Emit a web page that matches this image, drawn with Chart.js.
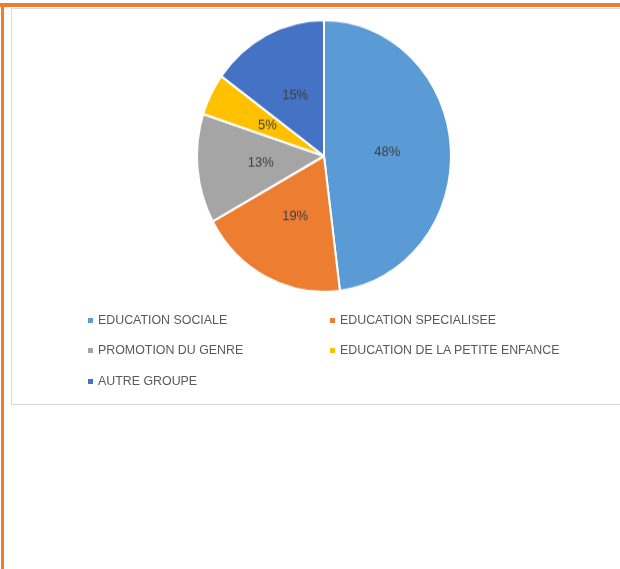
<!DOCTYPE html>
<html>
<head>
<meta charset="utf-8">
<script src="https://cdn.jsdelivr.net/npm/chart.js@4/dist/chart.umd.min.js"></script>
<style>
  html, body { margin: 0; padding: 0; background: #fff; }
  body { width: 620px; height: 569px; position: relative; overflow: hidden; font-family: "Liberation Sans", Arial, sans-serif; }
  #topbar { position: absolute; left: 0; top: 3px; width: 620px; height: 4px; background: #ED7D31; }
  #leftbar { position: absolute; left: 1px; top: 3px; width: 3px; height: 566px; background: #ED7D31; }
  #frame { position: absolute; left: 11px; top: 8px; width: 640px; height: 397px; border: 1px solid #d9d9d9; box-sizing: border-box; }
  #pieWrap { position: absolute; left: 174px; top: 6px; width: 300px; height: 300px; transform: scaleY(1.07); transform-origin: 50% 50%; }
  #legend { position: absolute; left: 0; top: 0; width: 620px; height: 569px; pointer-events: none; }
  .li { position: absolute; white-space: nowrap; font-size: 12.4px; color: #595959; line-height: 14px; }
  .mk { position: absolute; width: 5px; height: 5px; }
</style>
</head>
<body>
<div id="frame"></div>
<div id="topbar"></div>
<div id="leftbar"></div>
<div id="pieWrap"><canvas id="c" width="300" height="300"></canvas></div>
<div id="legend"></div>
<script>
const categories = ["EDUCATION SOCIALE", "EDUCATION SPECIALISEE", "PROMOTION DU GENRE", "EDUCATION DE LA PETITE ENFANCE", "AUTRE GROUPE"];
const values = [48, 19, 13, 5, 15];
const colors = ["#5B9BD5", "#ED7D31", "#A5A5A5", "#FFC000", "#4472C4"];

const pctLabels = {
  id: 'pctLabels',
  afterDatasetsDraw(chart) {
    const ctx = chart.ctx;
    const meta = chart.getDatasetMeta(0);
    ctx.save();
    ctx.font = '13px "Liberation Sans", Arial, sans-serif';
    ctx.fillStyle = '#404040';
    ctx.textAlign = 'center';
    ctx.textBaseline = 'middle';
    meta.data.forEach((arc, i) => {
      const p = arc.tooltipPosition();
      ctx.fillText(values[i] + '%', p.x, p.y);
    });
    ctx.restore();
  }
};

new Chart(document.getElementById('c'), {
  type: 'pie',
  data: {
    labels: categories,
    datasets: [{
      data: values,
      backgroundColor: colors,
      borderColor: '#ffffff',
      borderWidth: 2,
      radius: 127,
      hoverOffset: 0
    }]
  },
  options: {
    responsive: false,
    animation: false,
    layout: { padding: 0 },
    plugins: { legend: { display: false }, tooltip: { enabled: false } }
  },
  plugins: [pctLabels]
});

// Legend (two columns, Excel-like)
const legend = document.getElementById('legend');
const colX = [88, 330];
const rowY = [320, 350, 381];
categories.forEach((name, i) => {
  const col = i % 2, row = Math.floor(i / 2);
  const mk = document.createElement('div');
  mk.className = 'mk';
  mk.style.left = colX[col] + 'px';
  mk.style.top = (rowY[row] - 2) + 'px';
  mk.style.background = colors[i];
  legend.appendChild(mk);
  const t = document.createElement('div');
  t.className = 'li';
  t.textContent = name;
  t.style.left = (colX[col] + 10) + 'px';
  t.style.top = (rowY[row] - 7) + 'px';
  legend.appendChild(t);
});
</script>
</body>
</html>
